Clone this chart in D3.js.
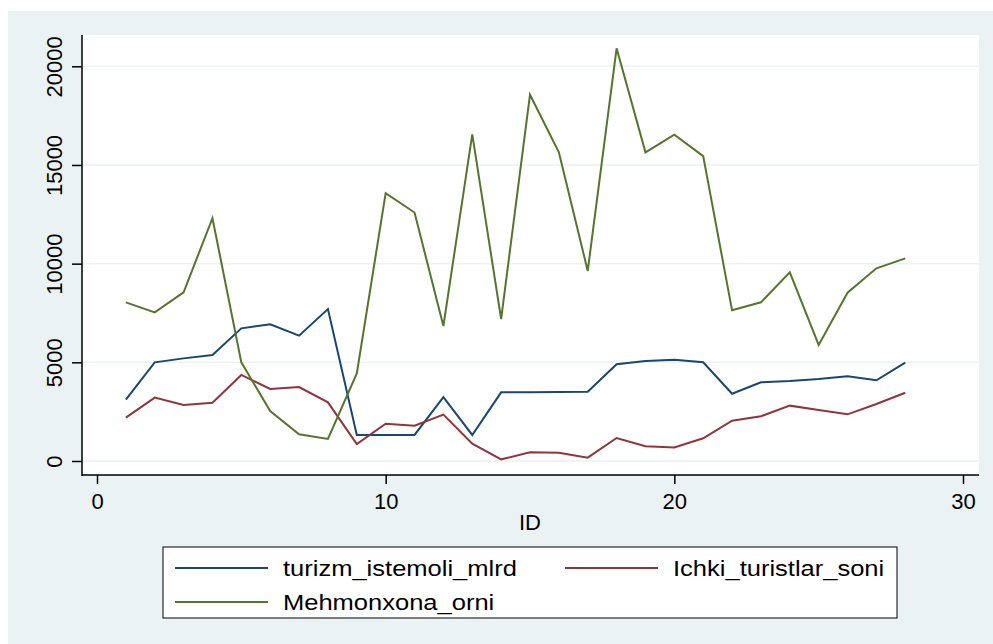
<!DOCTYPE html>
<html>
<head>
<meta charset="utf-8">
<script src="https://cdn.jsdelivr.net/npm/d3@7"></script>
<style>
  body { margin: 0; background: #fff; }
  text { font-family: "Liberation Sans", Arial, sans-serif; fill: #000; }
</style>
</head>
<body>
<svg id="chart" width="993" height="644"></svg>
<script>
// data
var ids = d3.range( 1, 29 );
var turizm_istemoli_mlrd = [ 3106, 5000, 5200, 5370, 6720, 6930, 6350, 7700, 1320, 1320,
                             1320, 3240, 1320, 3480, 3480, 3500, 3515, 4900, 5070, 5135,
                             5000, 3410, 3990, 4050, 4155, 4300, 4090, 4980 ];
var ichki_turistlar_soni = [ 2195, 3210, 2840, 2956, 4360, 3650, 3750, 2970, 860, 1890,
                             1790, 2350, 880, 85, 440, 420, 170, 1165, 745, 690,
                             1150, 2045, 2265, 2805, 2585, 2365, 2890, 3460 ];
var mehmonxona_orni = [ 8040, 7530, 8550, 12300, 5000, 2530, 1350, 1115, 4440, 13570,
                        12590, 6840, 16550, 7195, 18560, 15640, 9630, 20910, 15640, 16540,
                        15450, 7635, 8040, 9560, 5880, 8530, 9765, 10270 ];

var series_names = [ "turizm_istemoli_mlrd", "Ichki_turistlar_soni", "Mehmonxona_orni" ];
var series_values = [ turizm_istemoli_mlrd, ichki_turistlar_soni, mehmonxona_orni ];
var series_colors = [ "#1a476f", "#90353b", "#55752f" ];
var x_ticks = [ 0, 10, 20, 30 ];
var y_ticks = [ 0, 5000, 10000, 15000, 20000 ];

var MARGIN = { left: 82, right: 979, top: 35, bottom: 475 };

var svg = d3.select( "#chart" );

// graph region
svg.append( "rect" )
  .attr( "x", 8 ).attr( "y", 11 )
  .attr( "width", 985 ).attr( "height", 633 )
  .attr( "fill", "#eaf2f3" );

// plot region
svg.append( "rect" )
  .attr( "x", MARGIN.left ).attr( "y", MARGIN.top )
  .attr( "width", MARGIN.right - MARGIN.left ).attr( "height", MARGIN.bottom - MARGIN.top )
  .attr( "fill", "#fff" );

var x = d3.scaleLinear().domain( [ 0, 30 ] ).range( [ 97, 963 ] );
var y = d3.scaleLinear().domain( [ 0, 20000 ] ).range( [ 461, 66.3 ] );

// grid lines
svg.append( "g" )
  .selectAll( "line" )
  .data( y_ticks )
  .enter()
  .append( "line" )
  .attr( "x1", MARGIN.left + 1 ).attr( "x2", MARGIN.right )
  .attr( "y1", function( d ){ return y( d ); } )
  .attr( "y2", function( d ){ return y( d ); } )
  .attr( "stroke", "#eaf2f3" )
  .attr( "stroke-width", 1.5 );

// series
var line = d3.line()
  .x( function( d, i ){ return x( ids[ i ] ); } )
  .y( function( d ){ return y( d ); } );

for( var s = 0 ; s < series_values.length ; s++ ){
  svg.append( "path" )
    .datum( series_values[ s ] )
    .attr( "d", line )
    .attr( "fill", "none" )
    .attr( "stroke", series_colors[ s ] )
    .attr( "stroke-width", 2 )
    .attr( "stroke-linejoin", "miter" );
}

// y axis
var y_axis = svg.append( "g" )
  .attr( "transform", "translate(" + MARGIN.left + ",0)" )
  .call( d3.axisLeft( y ).tickValues( y_ticks ).tickSize( 10 ).tickSizeOuter( 0 ).tickFormat( d3.format( "d" ) ) );

y_axis.select( ".domain" ).remove();
y_axis.append( "line" )
  .attr( "x1", 0 ).attr( "x2", 0 )
  .attr( "y1", MARGIN.top ).attr( "y2", MARGIN.bottom + 1 )
  .attr( "stroke", "#000" ).attr( "stroke-width", 1.5 );
y_axis.selectAll( ".tick line" ).attr( "stroke-width", 1.5 );
y_axis.selectAll( ".tick text" )
  .attr( "x", 0 ).attr( "y", 0 ).attr( "dy", 0 )
  .attr( "transform", "translate(-20,0) rotate(-90)" )
  .attr( "text-anchor", "middle" )
  .style( "font-family", "Liberation Sans, Arial, sans-serif" )
  .style( "font-size", "22px" );

// x axis
var x_axis = svg.append( "g" )
  .attr( "transform", "translate(0," + MARGIN.bottom + ")" )
  .call( d3.axisBottom( x ).tickValues( x_ticks ).tickSize( 9 ).tickSizeOuter( 0 ) );

x_axis.select( ".domain" ).remove();
x_axis.append( "line" )
  .attr( "x1", MARGIN.left ).attr( "x2", MARGIN.right )
  .attr( "y1", 0 ).attr( "y2", 0 )
  .attr( "stroke", "#000" ).attr( "stroke-width", 1.5 );
x_axis.selectAll( ".tick line" ).attr( "stroke-width", 1.5 );
x_axis.selectAll( ".tick text" )
  .attr( "y", 34 ).attr( "dy", 0 )
  .style( "font-family", "Liberation Sans, Arial, sans-serif" )
  .style( "font-size", "22px" );

svg.append( "text" )
  .attr( "x", 530 ).attr( "y", 530 )
  .attr( "text-anchor", "middle" )
  .style( "font-size", "22px" )
  .text( "ID" );

// legend
var legend = svg.append( "g" );
legend.append( "rect" )
  .attr( "x", 163 ).attr( "y", 547 )
  .attr( "width", 734 ).attr( "height", 71 )
  .attr( "fill", "#fff" )
  .attr( "stroke", "#000" )
  .attr( "stroke-width", 1 );

var legend_pos = [ [ 175, 568 ], [ 565, 568 ], [ 175, 602 ] ];

for( var k = 0 ; k < series_names.length ; k++ ){
  legend.append( "line" )
    .attr( "x1", legend_pos[ k ][ 0 ] ).attr( "x2", legend_pos[ k ][ 0 ] + 93 )
    .attr( "y1", legend_pos[ k ][ 1 ] ).attr( "y2", legend_pos[ k ][ 1 ] )
    .attr( "stroke", series_colors[ k ] )
    .attr( "stroke-width", 2 );

  // the legend text in the picture is a bit wider than the font
  legend.append( "text" )
    .attr( "transform", "translate(" + ( legend_pos[ k ][ 0 ] + 108 ) + "," + ( legend_pos[ k ][ 1 ] + 8 ) + ") scale(1.16,1)" )
    .style( "font-size", "22px" )
    .text( series_names[ k ] );
}
</script>
</body>
</html>
